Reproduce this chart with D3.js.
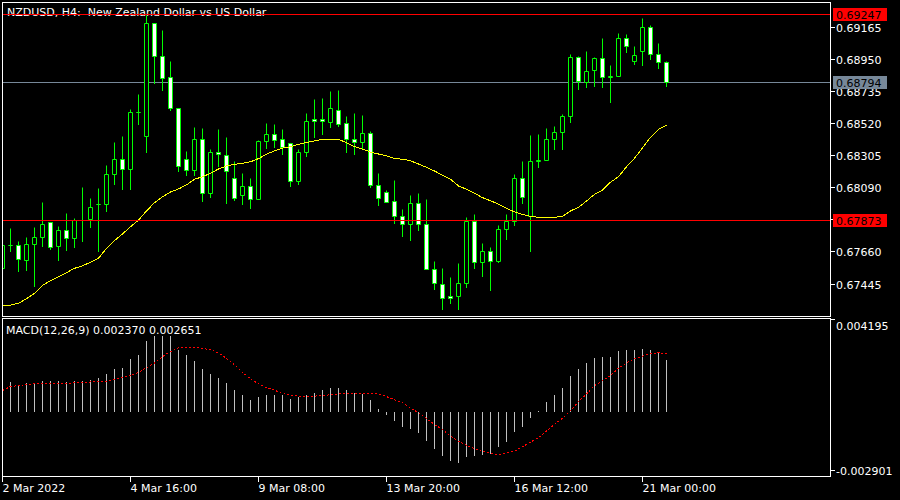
<!DOCTYPE html>
<html><head><meta charset="utf-8">
<script src="https://cdnjs.cloudflare.com/ajax/libs/d3/7.8.5/d3.min.js"></script>
<style>
html,body{margin:0;padding:0;background:#000;}
svg{display:block;}
text{font-family:"DejaVu Sans",sans-serif;font-size:11px;}
</style>
</head><body>
<svg id="c" width="900" height="500"></svg>
<script>
const symbolTitle = "NZDUSD, H4:  New Zealand Dollar vs US Dollar";
const macdTitle = "MACD(12,26,9) 0.002370 0.002651";

const openP = [0.67550,0.67701,0.67704,0.67601,0.67711,0.67755,0.67858,0.67695,0.67804,0.67748,
0.67871,0.67875,0.67978,0.67978,0.68179,0.68280,0.68210,0.68594,0.68431,0.69190,
0.68969,0.68828,0.68621,0.68280,0.68203,0.68413,0.68052,0.68326,0.68306,0.68152,
0.68039,0.68099,0.68012,0.68400,0.68447,0.68413,0.68387,0.68132,0.68326,0.68549,
0.68549,0.68527,0.68607,0.68520,0.68413,0.68393,0.68454,0.68106,0.68059,0.67998,
0.67898,0.67844,0.67985,0.67844,0.67543,0.67443,0.67363,0.67363,0.67450,0.67865,
0.67590,0.67664,0.67597,0.67811,0.67865,0.68152,0.67898,0.68266,0.68273,0.68413,
0.68460,0.68567,0.68962,0.68795,0.68875,0.68955,0.68828,0.68835,0.69089,0.68935,
0.69002,0.69163,0.68982,0.68929];
const highP = [0.67719,0.67818,0.67728,0.67759,0.67824,0.67989,0.67860,0.67833,0.67915,0.67887,
0.68089,0.68019,0.68085,0.68241,0.68395,0.68436,0.68614,0.68717,0.69245,0.69192,
0.69145,0.68933,0.68623,0.68335,0.68496,0.68489,0.68346,0.68482,0.68429,0.68268,
0.68188,0.68154,0.68409,0.68522,0.68516,0.68482,0.68389,0.68346,0.68589,0.68683,
0.68690,0.68737,0.68743,0.68569,0.68589,0.68574,0.68467,0.68188,0.68072,0.68139,
0.67945,0.68039,0.68052,0.68012,0.67597,0.67550,0.67490,0.67583,0.67891,0.67911,
0.67717,0.67690,0.67838,0.67911,0.68179,0.68266,0.68440,0.68447,0.68487,0.68500,
0.68581,0.68982,0.68969,0.69002,0.68962,0.69089,0.68909,0.69123,0.69116,0.69036,
0.69223,0.69176,0.69056,0.68935];
const lowP = [0.67539,0.67661,0.67527,0.67539,0.67432,0.67699,0.67679,0.67606,0.67668,0.67693,
0.67728,0.67822,0.67661,0.67934,0.68112,0.68081,0.68081,0.68516,0.68324,0.68788,
0.68739,0.68605,0.68197,0.68174,0.68174,0.67996,0.68023,0.68235,0.67982,0.68002,
0.67976,0.67949,0.68010,0.68350,0.68362,0.68313,0.68096,0.68110,0.68297,0.68424,
0.68444,0.68491,0.68502,0.68324,0.68310,0.68353,0.68092,0.67972,0.67990,0.67851,
0.67761,0.67737,0.67804,0.67541,0.67409,0.67276,0.67316,0.67276,0.67423,0.67550,
0.67496,0.67403,0.67590,0.67744,0.67838,0.67985,0.67664,0.68226,0.68270,0.68346,
0.68346,0.68527,0.68748,0.68761,0.68768,0.68761,0.68658,0.68832,0.68996,0.68915,
0.68909,0.68949,0.68889,0.68768];
const closeP = [0.67706,0.67701,0.67610,0.67711,0.67757,0.67844,0.67693,0.67804,0.67748,0.67871,
0.67873,0.67958,0.67980,0.68179,0.68280,0.68213,0.68594,0.68596,0.69190,0.68969,
0.68822,0.68618,0.68230,0.68203,0.68413,0.68052,0.68326,0.68313,0.68199,0.68019,
0.68099,0.68012,0.68402,0.68447,0.68407,0.68360,0.68132,0.68326,0.68534,0.68534,
0.68534,0.68621,0.68514,0.68413,0.68393,0.68454,0.68106,0.68019,0.67992,0.67898,
0.67844,0.67985,0.67844,0.67543,0.67450,0.67349,0.67349,0.67450,0.67865,0.67590,
0.67664,0.67597,0.67811,0.67865,0.68152,0.68025,0.68266,0.68270,0.68413,0.68460,
0.68567,0.68962,0.68802,0.68868,0.68955,0.68828,0.68832,0.69089,0.69036,0.68976,
0.69163,0.68982,0.68929,0.68794];
const maP = [0.67300,0.67304,0.67316,0.67347,0.67383,0.67436,0.67467,0.67494,0.67521,0.67550,
0.67567,0.67590,0.67617,0.67684,0.67735,0.67780,0.67828,0.67873,0.67934,0.67989,
0.68029,0.68061,0.68081,0.68108,0.68146,0.68163,0.68186,0.68215,0.68235,0.68246,
0.68253,0.68263,0.68284,0.68313,0.68337,0.68355,0.68364,0.68380,0.68393,0.68402,
0.68413,0.68413,0.68413,0.68391,0.68364,0.68348,0.68328,0.68315,0.68302,0.68286,
0.68280,0.68270,0.68248,0.68226,0.68201,0.68174,0.68146,0.68101,0.68079,0.68052,
0.68023,0.68002,0.67980,0.67952,0.67927,0.67911,0.67898,0.67891,0.67891,0.67891,
0.67898,0.67934,0.67958,0.68000,0.68045,0.68074,0.68126,0.68163,0.68230,0.68286,
0.68357,0.68427,0.68480,0.68507];
const macdHist = [0.00136,0.00135,0.00124,0.00129,0.00132,0.00142,0.00138,0.00138,0.00135,0.00138,
0.00138,0.00147,0.00153,0.00170,0.00193,0.00202,0.00239,0.00261,0.00325,0.00344,
0.00344,0.00344,0.00284,0.00257,0.00234,0.00196,0.00174,0.00156,0.00133,0.00097,
0.00078,0.00051,0.00068,0.00074,0.00078,0.00078,0.00060,0.00069,0.00074,0.00087,
0.00097,0.00106,0.00106,0.00097,0.00087,0.00083,0.00051,0.00014,-0.00016,-0.00043,
-0.00070,-0.00079,-0.00097,-0.00134,-0.00170,-0.00202,-0.00225,-0.00234,-0.00207,-0.00202,
-0.00199,-0.00195,-0.00161,-0.00138,-0.00092,-0.00070,-0.00028,0.00003,0.00045,0.00074,
0.00106,0.00165,0.00196,0.00222,0.00244,0.00252,0.00252,0.00277,0.00281,0.00281,
0.00289,0.00283,0.00267,0.00237];
const macdSignal = [0.00097,0.00115,0.00119,0.00124,0.00127,0.00129,0.00129,0.00129,0.00130,0.00132,
0.00133,0.00136,0.00138,0.00139,0.00147,0.00156,0.00165,0.00180,0.00201,0.00222,
0.00252,0.00275,0.00292,0.00295,0.00295,0.00290,0.00283,0.00269,0.00244,0.00214,
0.00180,0.00150,0.00127,0.00110,0.00098,0.00083,0.00075,0.00071,0.00069,0.00071,
0.00074,0.00077,0.00081,0.00083,0.00084,0.00084,0.00084,0.00080,0.00069,0.00054,
0.00041,0.00016,-0.00005,-0.00032,-0.00059,-0.00082,-0.00112,-0.00135,-0.00154,-0.00170,
-0.00182,-0.00191,-0.00196,-0.00190,-0.00181,-0.00161,-0.00140,-0.00119,-0.00089,-0.00059,
-0.00030,0.00005,0.00046,0.00081,0.00119,0.00141,0.00165,0.00199,0.00223,0.00242,
0.00254,0.00265,0.00269,0.00265];

const priceTicks = [0.69165,0.68950,0.68735,0.68520,0.68305,0.68090,0.67875,0.67660,0.67445];
const macdTicks = [0.004195,-0.002901];
const timeTickBars = [0,16,32,48,64,80];
const timeTickLabels = ["2 Mar 2022","4 Mar 16:00","9 Mar 08:00","13 Mar 20:00","16 Mar 12:00","21 Mar 00:00"];
const redLevels = [0.69247,0.67873];
const bidLevel = 0.68794;

const svg = d3.select("#c");
svg.append("rect").attr("width",900).attr("height",500).attr("fill","#000");

const x = d3.scaleLinear().domain([0,100]).range([2.5,802.5]);
const y = d3.scaleLinear().domain([0.67445,0.69165]).range([284,27]);
const ym = d3.scaleLinear().domain([-0.002901,0.004195]).range([475,320]);
const row = v => Math.floor(y(v) + 0.2) + 0.5;

const defs = svg.append("defs");
defs.append("clipPath").attr("id","cp").append("rect").attr("x",3).attr("y",3).attr("width",827).attr("height",313);
defs.append("clipPath").attr("id","cm").append("rect").attr("x",3).attr("y",319).attr("width",827).attr("height",157);

const idx = d3.range(openP.length);

svg.append("text").attr("x",7).attr("y",16).attr("fill","#fff").style("white-space","pre").text(symbolTitle);

const gp = svg.append("g").attr("clip-path","url(#cp)");
gp.append("line").attr("x1",3).attr("x2",830).attr("y1",row(bidLevel)).attr("y2",row(bidLevel))
  .attr("stroke","#778899").attr("stroke-width",1);

gp.selectAll("line.wick").data(idx).join("line").attr("class","wick")
  .attr("x1",i=>x(i)).attr("x2",i=>x(i))
  .attr("y1",i=>row(highP[i])).attr("y2",i=>row(lowP[i]) + 0.5)
  .attr("stroke","#00ff00").attr("stroke-width",1);
gp.selectAll("path.body").data(idx).join("path").attr("class","body")
  .attr("d",i=>{
    const t=row(Math.max(openP[i],closeP[i])), b=row(Math.min(openP[i],closeP[i]));
    const cx=x(i);
    return `M${cx-2},${t}H${cx+2}V${b}H${cx-2}Z`;
  })
  .attr("fill",i=>closeP[i]<openP[i]?"#ffffff":"#000000")
  .attr("stroke","#00ff00").attr("stroke-width",1);

gp.append("path").datum(idx)
  .attr("d",d3.line().x(i=>x(i)).y(i=>y(maP[i])))
  .attr("fill","none").attr("stroke","#ffff00").attr("stroke-width",1)
  .attr("shape-rendering","crispEdges");

gp.selectAll("line.lvl").data(redLevels).join("line").attr("class","lvl")
  .attr("x1",3).attr("x2",830).attr("y1",d=>row(d)).attr("y2",d=>row(d))
  .attr("stroke","#ff0000").attr("stroke-width",1);

const gm = svg.append("g").attr("clip-path","url(#cm)");
gm.selectAll("line.h").data(idx).join("line").attr("class","h")
  .attr("x1",i=>x(i)).attr("x2",i=>x(i))
  .attr("y1",ym(0)).attr("y2",i=>ym(macdHist[i]))
  .attr("stroke","#c0c0c0").attr("stroke-width",1).attr("shape-rendering","crispEdges");
gm.append("path").datum(idx)
  .attr("d",d3.line().x(i=>x(i)).y(i=>ym(macdSignal[i])))
  .attr("fill","none").attr("stroke","#ff0000").attr("stroke-width",1).attr("stroke-dasharray","2,2")
  .attr("shape-rendering","crispEdges");
svg.append("text").attr("x",6).attr("y",334).attr("fill","#fff").text(macdTitle);

svg.append("rect").attr("x",2.5).attr("y",2.5).attr("width",828).attr("height",314)
  .attr("fill","none").attr("stroke","#fff");
svg.append("rect").attr("x",2.5).attr("y",318.5).attr("width",828).attr("height",158)
  .attr("fill","none").attr("stroke","#fff");

const pa = svg.append("g");
priceTicks.forEach(v=>{
  const r=Math.floor(y(v))+0.5;
  pa.append("line").attr("x1",831).attr("x2",835).attr("y1",r).attr("y2",r).attr("stroke","#fff");
  pa.append("text").attr("x",836).attr("y",r+4.5).attr("fill","#fff").text(v.toFixed(5));
});
redLevels.forEach(v=>{
  const r=row(v);
  pa.append("rect").attr("x",833).attr("y",r-6.5).attr("width",54).attr("height",13).attr("fill","#ff0000");
  pa.append("text").attr("x",836).attr("y",r+4.5).attr("fill","#000").text(v.toFixed(5));
});
{
  const r=row(bidLevel);
  pa.append("rect").attr("x",833).attr("y",r-6.5).attr("width",54).attr("height",13).attr("fill","#778899");
  pa.append("text").attr("x",836).attr("y",r+4.5).attr("fill","#000").text(bidLevel.toFixed(5));
}

macdTicks.forEach((v,j)=>{
  const r = j===0 ? Math.floor(ym(v))-0.5 : Math.floor(ym(v))-4.5;
  pa.append("line").attr("x1",831).attr("x2",835).attr("y1",r).attr("y2",r).attr("stroke","#fff");
  pa.append("text").attr("x",836).attr("y",j===0? r+10.5 : r+4.5).attr("fill","#fff").text(v.toFixed(6));
});

timeTickBars.forEach((b,j)=>{
  const cx=x(b);
  pa.append("line").attr("x1",cx).attr("x2",cx).attr("y1",477).attr("y2",482).attr("stroke","#fff");
  pa.append("text").attr("x",cx).attr("y",492).attr("fill","#fff").text(timeTickLabels[j]);
});
</script>
</body></html>
